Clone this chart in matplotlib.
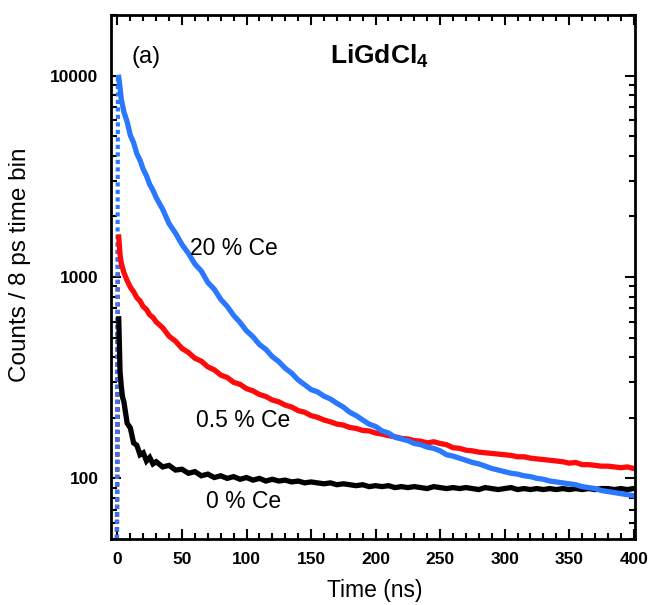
import matplotlib
matplotlib.use("Agg")
import matplotlib.pyplot as plt
from matplotlib.ticker import FixedLocator, MultipleLocator, NullFormatter

plt.rcParams['font.family'] = ['Liberation Sans', 'DejaVu Sans']
plt.rcParams['mathtext.fontset'] = 'custom'
plt.rcParams['mathtext.rm'] = 'Liberation Sans'
plt.rcParams['mathtext.bf'] = 'Liberation Sans:bold'

# time grid (ns) the decays were read on
time_ns = [1, 2, 3, 4, 5, 7.5, 10, 12.5, 15, 17.5, 20, 22.5, 25, 27.5, 30,
           35, 40, 45, 50, 55, 60, 65, 70, 75, 80, 85, 90, 95, 100,
           105, 110, 115, 120, 125, 130, 135, 140, 145, 150, 155, 160, 165, 170,
           175, 180, 185, 190, 195, 200, 205, 210, 215, 220, 225, 230, 235, 240,
           245, 250, 255, 260, 265, 270, 275, 280, 285, 290, 295, 300, 305, 310,
           315, 320, 325, 330, 335, 340, 345, 350, 355, 360, 365, 370, 375, 380,
           385, 390, 395, 400]

# 20 % Ce
ce20 = [9800, 8700, 7600, 7100, 6600, 5900, 5050, 4650, 4100, 3800, 3420, 3180, 2880, 2700, 2480,
        2170, 1840, 1650, 1450, 1310, 1160, 1070, 940, 870, 775, 715, 645, 595, 540,
        505, 462, 437, 402, 380, 352, 333, 308, 292, 276, 269, 256, 248, 236,
        226, 213, 205, 195, 186, 181, 172, 168, 160, 157, 154, 149, 147, 143,
        141, 137, 131, 129, 126, 123, 120, 118, 115, 112, 110, 108, 106, 105,
        103, 102, 100, 99, 97, 96, 95, 94, 93, 91, 90, 89, 87, 86,
        85, 84, 83, 82]

# 0.5 % Ce
ce05 = [1580, 1290, 1170, 1110, 1050, 960, 890, 845, 790, 760, 712, 690, 648, 630, 598,
        560, 508, 480, 442, 422, 395, 382, 358, 346, 326, 317, 300, 293, 279,
        272, 261, 255, 245, 240, 231, 226, 217, 213, 205, 201, 195, 191, 186,
        184, 179, 177, 173, 172, 168, 166, 163, 161, 158, 157, 154, 153, 150,
        152, 149, 147, 142, 141, 138, 137, 135, 134, 133, 132, 131, 130, 128,
        128, 126, 125, 124, 123, 122, 121, 119, 120, 117, 117, 116, 115, 115,
        114, 113, 114, 112]

# 0 % Ce
ce00 = [620, 340, 285, 252, 240, 188, 178, 150, 146, 131, 134, 122, 127, 118, 121,
        114, 116, 110, 111, 106, 108, 103, 105, 101, 103, 100, 102, 99, 101,
        98, 100, 97, 99, 97, 98, 96, 97, 95, 96, 95, 94, 95, 93,
        94, 93, 92, 93, 91, 92, 91, 92, 90, 91, 90, 91, 90, 89,
        91, 90, 89, 90, 89, 90, 89, 88, 90, 89, 88, 89, 90, 88,
        89, 88, 89, 88, 89, 88, 89, 88, 89, 88, 89, 88, 89, 89,
        88, 89, 88, 89]

# rising edges at t ~ 0
rise_t = [-0.4, 0.4]
ce20_rise = [50, 9800]
ce05_rise = [50, 1580]
ce00_rise = [50, 620]

blue = '#2a78ff'
red = '#ff0a0a'

fig = plt.figure(figsize=(6.5, 6.05), dpi=100)
ax = fig.add_axes([111/650, 66/605, 524/650, 524/605])

ax.plot(rise_t, ce00_rise, color='black', lw=3, ls=(0, (1, 0.8)))
ax.plot(rise_t, ce05_rise, color=red, lw=3, ls=(0, (1, 0.8)))
ax.plot(rise_t, ce20_rise, color=blue, lw=3, ls=(0, (1, 0.8)))
ax.plot(time_ns, ce00, color='black', lw=3.8, solid_joinstyle='miter')
ax.plot(time_ns, ce05, color=red, lw=3.8, solid_joinstyle='miter')
ax.plot(time_ns, ce20, color=blue, lw=3.8, solid_joinstyle='miter')

ax.set_yscale('log')
ax.set_xlim(-5, 401)
ax.set_ylim(50, 20000)

ax.xaxis.set_major_locator(MultipleLocator(50))
ax.xaxis.set_minor_locator(MultipleLocator(10))
ax.yaxis.set_major_locator(FixedLocator([100, 1000, 10000]))
ax.yaxis.set_minor_locator(FixedLocator([50, 60, 70, 80, 90, 200, 300, 400, 500, 600, 700, 800, 900,
                                         2000, 3000, 4000, 5000, 6000, 7000, 8000, 9000, 20000]))
ax.yaxis.set_minor_formatter(NullFormatter())
ax.set_yticklabels(['100', '1000', '10000'])

ax.tick_params(which='both', direction='in', top=True, right=True, width=1.5,
               labelsize=12.5, pad=9)
ax.tick_params(which='major', length=7.5)
ax.tick_params(which='minor', length=4.3)
for lab in ax.get_xticklabels() + ax.get_yticklabels():
    lab.set_fontweight('bold')
for sp in ax.spines.values():
    sp.set_linewidth(2)

ax.text((20 - 111) / 524, 0.523, 'Counts / 8 ps time bin', transform=ax.transAxes,
        rotation=90, ha='center', va='center', fontsize=17.5)
ax.text((375 - 111) / 524, -0.099, 'Time (ns)', transform=ax.transAxes,
        ha='center', va='center', fontsize=16.5)

ax.text((146 - 111) / 524, (539 - 57.5) / 524, '(a)', transform=ax.transAxes,
        ha='center', va='center', fontsize=17)
ax.text((330 - 111) / 524, (539 - 63) / 524, r'LiGdCl$_\mathbf{4}$', transform=ax.transAxes,
        ha='left', va='baseline', fontsize=19, fontweight='bold')

ax.text((190 - 111) / 524, (539 - 248.5) / 524, '20 % Ce', transform=ax.transAxes,
        ha='left', va='center', fontsize=16.5)
ax.text((196 - 111) / 524, (539 - 420.5) / 524, '0.5 % Ce', transform=ax.transAxes,
        ha='left', va='center', fontsize=16.5)
ax.text((206 - 111) / 524, (539 - 501.5) / 524, '0 % Ce', transform=ax.transAxes,
        ha='left', va='center', fontsize=16.5)

fig.savefig('out.png', dpi=100)
